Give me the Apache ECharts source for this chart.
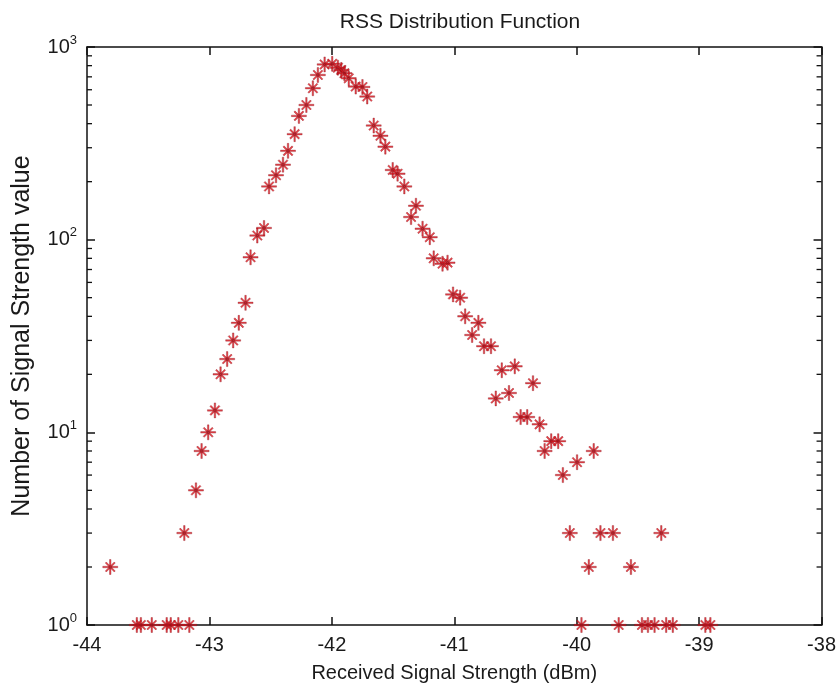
<!DOCTYPE html>
<html>
<head>
<meta charset="utf-8">
<script src="https://cdn.jsdelivr.net/npm/echarts@6/dist/echarts.min.js"></script>
<style>
html,body{margin:0;padding:0;background:#fff;}
#chart{width:839px;height:688px;}
</style>
</head>
<body>
<div id="chart"></div>
<script>
// Received signal strength (dBm) for each point
var rssX = [
  -43.81, -43.593, -43.56, -43.471, -43.349, -43.316, -43.254, -43.205, -43.164, -43.11,
  -43.064, -43.01, -42.955, -42.909, -42.855, -42.806, -42.76, -42.705, -42.664, -42.609,
  -42.554, -42.513, -42.456, -42.399, -42.358, -42.304, -42.269, -42.208, -42.155, -42.114,
  -42.059, -41.997, -41.951, -41.923, -41.897, -41.862, -41.805, -41.75, -41.711, -41.658,
  -41.603, -41.563, -41.503, -41.463, -41.408, -41.353, -41.313, -41.259, -41.2, -41.168,
  -41.096, -41.055, -41.01, -40.952, -40.911, -40.854, -40.803, -40.757, -40.7, -40.661,
  -40.612, -40.553, -40.506, -40.458, -40.404, -40.357, -40.303, -40.262, -40.208, -40.151,
  -40.113, -40.056, -39.997, -39.961, -39.901, -39.861, -39.806, -39.704, -39.657, -39.557,
  -39.467, -39.418, -39.364, -39.309, -39.269, -39.215, -38.949, -38.908
];
// Number of occurrences for each signal strength value
var rssCount = [
  2, 1, 1, 1, 1, 1, 1, 3, 1, 5,
  8, 10, 13, 20, 24, 30, 37, 47, 81, 105,
  115, 189, 216, 245, 289, 353, 439, 500, 611, 716,
  812, 818, 781, 760, 731, 688, 623, 620, 553, 391,
  346, 304, 230, 220, 189, 131, 150, 114, 103, 80,
  75, 76, 52, 50, 40, 32, 37, 28, 28, 15,
  21, 16, 22, 12, 12, 18, 11, 8, 9, 9,
  6, 3, 7, 1, 2, 8, 3, 3, 1, 2,
  1, 1, 1, 3, 1, 1, 1, 1
];
// Axis settings
var xTickMin = -44, xTickMax = -38, xTickStep = 1;
var yMin = 1, yMax = 1000;
var yMinorTicks = [2,3,4,5,6,7,8,9,20,30,40,50,60,70,80,90,200,300,400,500,600,700,800,900];

var titleText = 'RSS Distribution Function';
var xName = 'Received Signal Strength (dBm)';
var yName = 'Number of Signal Strength value';

var points = rssX.map(function (x, i) { return [x, rssCount[i]]; });
var minorData = yMinorTicks.map(function (v) { return [xTickMin, v]; });

var FONT = "'Liberation Sans', Arial, sans-serif";
var TXT = '#1a1a1a';
var asterisk = 'path://M0 9L20 9L20 11L0 11Z M9 0L11 0L11 20L9 20Z M3.3 4.7L4.7 3.3L16.7 15.3L15.3 16.7Z M15.3 3.3L16.7 4.7L4.7 16.7L3.3 15.3Z';

var chart = echarts.init(document.getElementById('chart'), null, {renderer: 'canvas'});
var axisLineStyle = {color: '#111', width: 1.5};

chart.setOption({
  animation: false,
  backgroundColor: '#fff',
  title: {
    text: titleText,
    left: 455, top: 7, textAlign: 'center',
    textStyle: {fontFamily: FONT, fontSize: 21, fontWeight: 'normal', color: TXT}
  },
  grid: {left: 87, right: 16, top: 47, bottom: 62, containLabel: false},
  xAxis: [{
    type: 'value', min: xTickMin, max: xTickMax, interval: xTickStep,
    position: 'bottom',
    name: xName, nameLocation: 'middle', nameGap: 38,
    nameTextStyle: {fontFamily: FONT, fontSize: 20, color: TXT},
    axisLine: {show: true, onZero: false, lineStyle: axisLineStyle},
    axisTick: {show: true, inside: true, length: 8, lineStyle: {color: '#111', width: 1.5}},
    axisLabel: {fontFamily: FONT, fontSize: 20, color: TXT, margin: 10},
    splitLine: {show: false}
  }, {
    type: 'value', min: xTickMin, max: xTickMax, interval: xTickStep,
    position: 'top',
    axisLine: {show: true, onZero: false, lineStyle: axisLineStyle},
    axisTick: {show: true, inside: true, length: 8, lineStyle: {color: '#111', width: 1.5}},
    axisLabel: {show: false},
    splitLine: {show: false}
  }],
  yAxis: [{
    type: 'log', logBase: 10, min: yMin, max: yMax,
    position: 'left',
    name: yName, nameLocation: 'middle', nameGap: 52, nameRotate: 90,
    nameTextStyle: {fontFamily: FONT, fontSize: 25, color: TXT},
    axisLine: {show: true, onZero: false, lineStyle: axisLineStyle},
    axisTick: {show: true, inside: true, length: 8, lineStyle: {color: '#111', width: 1.5}},
    axisLabel: {
      margin: 10, color: TXT,
      formatter: function (v) { return '{b|10}{s|' + Math.round(Math.log10(v)) + '}'; },
      rich: {
        b: {fontFamily: FONT, fontSize: 20, color: TXT},
        s: {fontFamily: FONT, fontSize: 13, color: TXT, padding: [0, 0, 14, 0]}
      }
    },
    splitLine: {show: false}
  }, {
    type: 'log', logBase: 10, min: yMin, max: yMax,
    position: 'right',
    axisLine: {show: true, onZero: false, lineStyle: axisLineStyle},
    axisTick: {show: true, inside: true, length: 8, lineStyle: {color: '#111', width: 1.5}},
    axisLabel: {show: false},
    splitLine: {show: false}
  }],
  series: [{
    type: 'custom',
    xAxisIndex: 0, yAxisIndex: 0,
    silent: true, clip: false,
    data: minorData,
    renderItem: function (params, api) {
      var l = api.coord([xTickMin, api.value(1)]);
      var r = api.coord([xTickMax, api.value(1)]);
      var st = {stroke: '#111', lineWidth: 1.3};
      return {type: 'group', children: [
        {type: 'line', shape: {x1: l[0], y1: l[1], x2: l[0] + 5, y2: l[1]}, style: st},
        {type: 'line', shape: {x1: r[0], y1: r[1], x2: r[0] - 5, y2: r[1]}, style: st}
      ]};
    }
  }, {
    type: 'scatter',
    xAxisIndex: 0, yAxisIndex: 0,
    clip: false,
    symbol: asterisk,
    symbolSize: 15,
    itemStyle: {color: '#e0161e', borderColor: '#801018', borderWidth: 0.4},
    data: points
  }]
});
</script>
</body>
</html>
